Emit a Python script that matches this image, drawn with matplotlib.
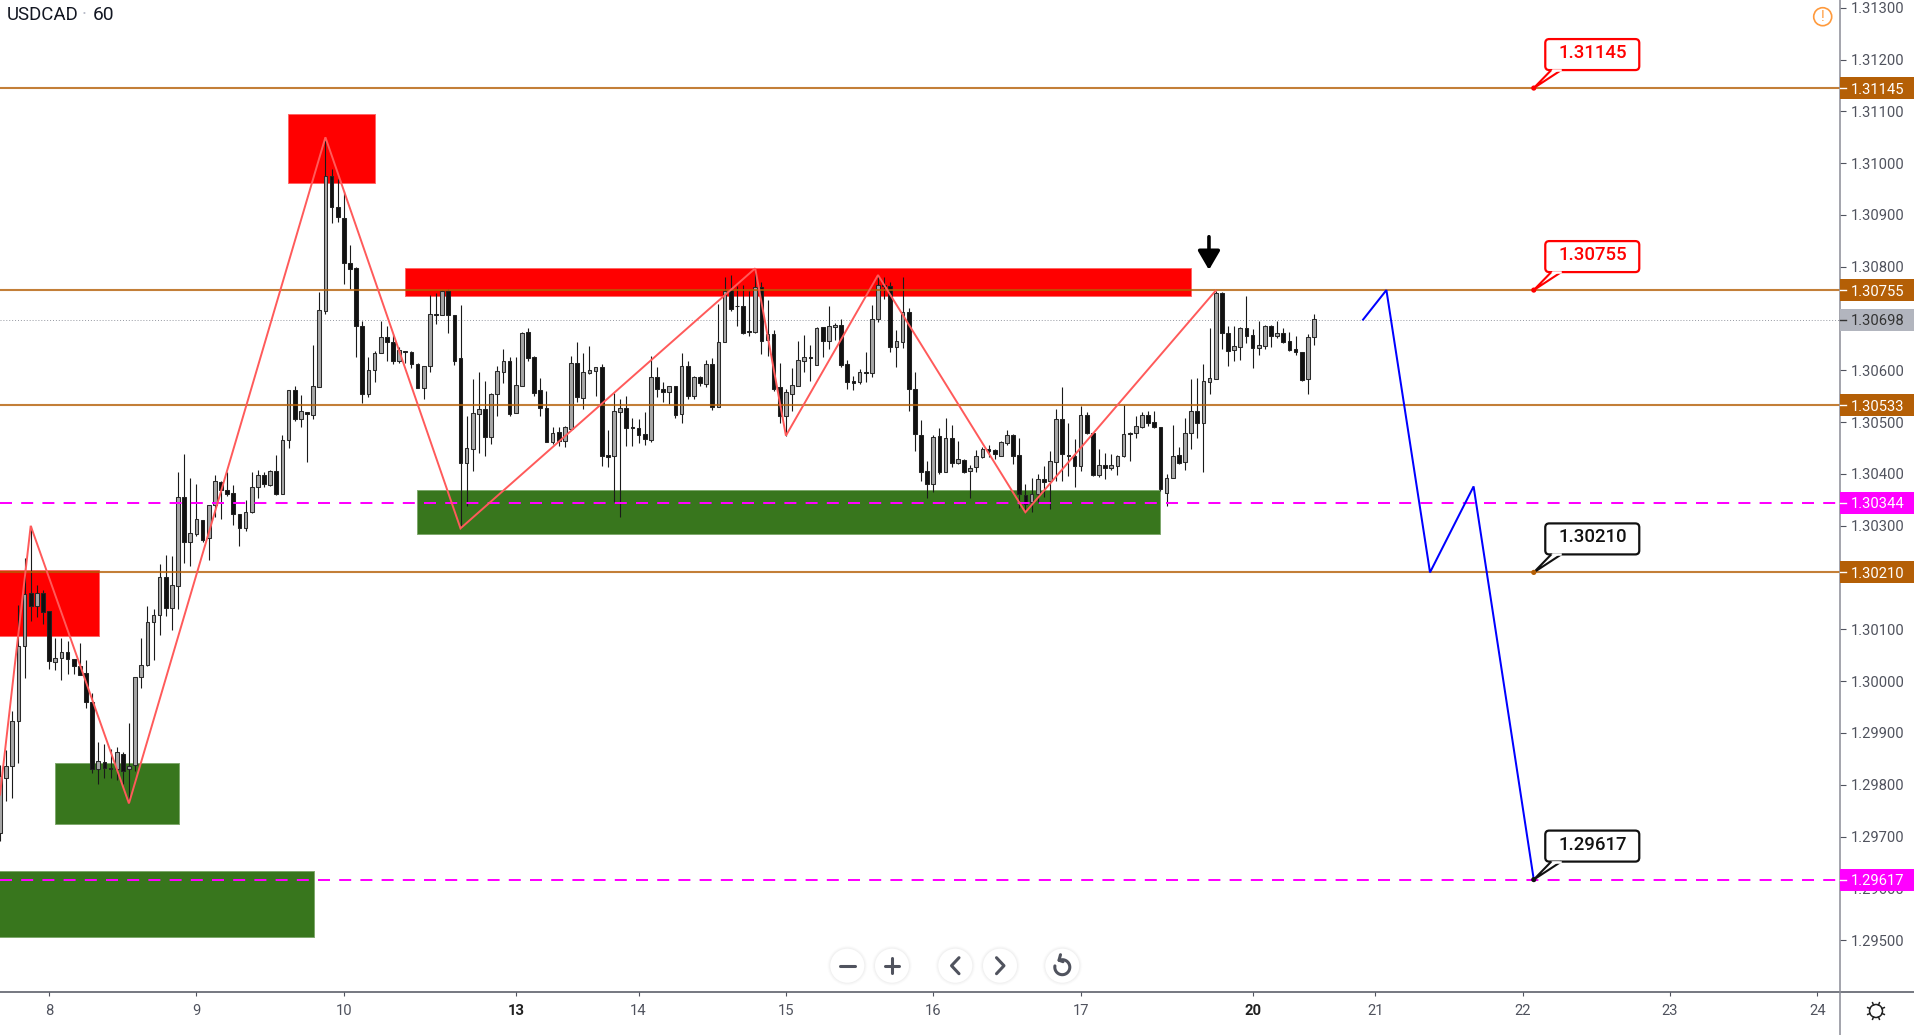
import numpy as np
import matplotlib

matplotlib.use("Agg")
import matplotlib.pyplot as plt
from matplotlib.lines import Line2D
from matplotlib.patches import Circle, FancyBboxPatch, Polygon, Rectangle
from matplotlib.transforms import IdentityTransform

plt.rcParams["font.family"] = ["Roboto", "DejaVu Sans"]

W, H = 1915, 1035
AXIS_X, AXIS_Y = 1840, 992
BAR_PX = 6.14

BROWN = "#b45f06"
MAGENTA = "#ff00ff"
ZIGZAG = "#ff5a5a"
TEXT = "#50535e"

# hourly candles, in points above 1.30000
opens = [-293, -187, -164, -77, 68, 171, 145, 171, 135, 38, 45, 56, 42, 30, 15, -40, -170, -156, -167, -170,
         -140, -170, -161, 8, 32, 114, 127, 202, 141, 184, 356, 269, 285, 311, 277, 340, 385, 370, 364, 322,
         295, 327, 374, 398, 379, 405, 362, 465, 562, 506, 519, 513, 567, 715, 975, 915, 895, 808, 797, 686,
         554, 600, 633, 665, 654, 618, 638, 635, 613, 566, 608, 709, 706, 754, 706, 623, 421, 448, 516, 525,
         472, 554, 597, 619, 517, 570, 675, 626, 563, 528, 461, 482, 463, 487, 615, 547, 594, 599, 607, 437,
         435, 520, 527, 490, 488, 477, 465, 588, 564, 559, 569, 516, 608, 550, 588, 574, 612, 530, 655, 755,
         725, 725, 676, 675, 760, 659, 670, 567, 512, 554, 570, 619, 625, 611, 683, 657, 683, 688, 612, 579,
         577, 596, 594, 699, 765, 762, 646, 655, 713, 564, 475, 405, 380, 474, 404, 470, 422, 427, 405, 414,
         432, 449, 447, 435, 459, 476, 436, 359, 345, 361, 390, 387, 424, 506, 437, 435, 416, 514, 480, 398,
         417, 411, 416, 434, 480, 479, 490, 514, 501, 490, 363, 392, 436, 423, 479, 521, 498, 578, 584, 749,
         672, 640, 646, 681, 668, 643, 648, 686, 666, 673, 657, 641, 635, 583, 664]
highs = [-161, -132, -58, 148, 238, 300, 185, 177, 135, 84, 84, 77, 42, 74, 40, -22, -118, -122, -130, -127,
         -137, -80, 8, 84, 145, 139, 226, 243, 242, 403, 438, 393, 380, 311, 340, 399, 387, 403, 378, 322,
         350, 403, 408, 404, 408, 436, 475, 562, 570, 552, 519, 649, 752, 1050, 989, 969, 947, 843, 799, 696,
         625, 638, 696, 686, 670, 646, 638, 638, 615, 609, 745, 749, 755, 758, 707, 727, 512, 584, 596, 580,
         557, 608, 642, 625, 625, 675, 681, 628, 586, 561, 490, 490, 493, 628, 654, 633, 648, 606, 613, 485,
         556, 545, 551, 509, 507, 519, 628, 606, 577, 570, 570, 633, 619, 590, 590, 621, 623, 728, 780, 785,
         763, 765, 754, 796, 770, 736, 678, 615, 564, 604, 657, 668, 649, 683, 684, 725, 691, 699, 621, 590,
         602, 635, 726, 784, 780, 771, 677, 780, 720, 596, 504, 425, 475, 488, 509, 495, 464, 429, 417, 447,
         453, 456, 449, 464, 485, 478, 470, 380, 393, 400, 416, 445, 526, 567, 499, 467, 532, 519, 481, 448,
         441, 438, 436, 533, 481, 512, 520, 522, 522, 490, 400, 495, 452, 508, 583, 586, 613, 681, 754, 751,
         686, 686, 683, 744, 680, 696, 687, 687, 696, 681, 675, 667, 636, 670, 709]
lows = [-309, -232, -225, -158, 7, 116, 123, 110, 24, 21, 3, 13, 13, 11, -51, -177, -198, -187, -187, -190,
        -199, -235, -174, -13, 30, 41, 89, 126, 99, 139, 228, 222, 280, 269, 234, 316, 313, 358, 302, 261,
        290, 324, 354, 374, 377, 359, 362, 450, 502, 490, 423, 506, 567, 709, 884, 886, 767, 757, 625, 537,
        548, 577, 633, 618, 612, 615, 615, 604, 566, 545, 597, 689, 706, 673, 611, 295, 338, 406, 440, 435,
        458, 512, 575, 512, 517, 570, 619, 550, 511, 461, 458, 454, 453, 485, 538, 525, 593, 551, 416, 414,
        346, 317, 454, 454, 459, 456, 462, 549, 538, 535, 508, 499, 545, 545, 569, 567, 524, 529, 654, 715,
        686, 670, 667, 673, 631, 628, 561, 499, 474, 522, 569, 597, 580, 610, 625, 642, 659, 606, 565, 563,
        574, 577, 588, 694, 738, 636, 606, 644, 522, 445, 387, 353, 365, 400, 403, 414, 419, 402, 353, 404,
        431, 432, 429, 434, 456, 419, 335, 324, 327, 345, 355, 332, 387, 387, 396, 374, 406, 477, 396, 395,
        390, 408, 398, 432, 425, 470, 488, 493, 488, 367, 338, 392, 419, 408, 448, 469, 403, 554, 583, 642,
        609, 619, 620, 653, 604, 630, 641, 646, 662, 653, 638, 630, 580, 554, 649]
closes = [-183, -164, -77, 68, 168, 145, 170, 133, 39, 45, 56, 42, 29, 12, -40, -170, -154, -168, -170, -137,
          -174, -163, 8, 32, 115, 127, 202, 142, 185, 356, 269, 287, 313, 273, 340, 386, 370, 361, 322, 296,
          327, 374, 398, 380, 406, 362, 465, 562, 506, 521, 515, 570, 717, 975, 915, 897, 808, 796, 685, 554,
          601, 633, 665, 654, 618, 640, 635, 612, 566, 609, 709, 706, 754, 706, 619, 421, 451, 517, 525, 472,
          555, 599, 618, 516, 572, 673, 623, 557, 528, 462, 480, 464, 491, 615, 548, 596, 601, 606, 435, 432,
          522, 528, 488, 488, 476, 467, 588, 564, 559, 569, 514, 608, 551, 588, 575, 612, 530, 654, 754, 718,
          724, 672, 674, 760, 657, 670, 565, 512, 559, 572, 620, 625, 624, 681, 657, 686, 688, 610, 577, 575,
          596, 595, 699, 765, 762, 646, 657, 713, 564, 477, 404, 380, 472, 403, 470, 422, 429, 403, 412, 434,
          449, 445, 438, 462, 476, 435, 361, 342, 361, 391, 385, 425, 506, 438, 435, 416, 514, 479, 398, 417,
          412, 417, 435, 477, 477, 492, 514, 499, 490, 371, 393, 434, 422, 480, 521, 499, 580, 586, 749, 672,
          638, 648, 681, 667, 644, 649, 686, 666, 673, 655, 640, 635, 582, 664, 700]

# levels
solid_levels = [1.31145, 1.30755, 1.30533, 1.30210]
dashed_levels = [1.30344, 1.29617]
last_price = 1.30698

# zigzag and projected path, (bar, price)
zigzag_bars = [0, 5, 21, 53, 75, 123, 128, 143, 167, 198]
zigzag_prices = [1.29781, 1.30300, 1.29764, 1.31050, 1.30295, 1.30797, 1.30474, 1.30784, 1.30326, 1.30754]
path_bars = [222, 225.8, 232.9, 240, 249.8]
path_prices = [1.30698, 1.30755, 1.30210, 1.30376, 1.29617]

# zones: bar start, bar end, price low, price high
red_zones = [(-1, 16.07, 1.30087, 1.30215), (46.85, 61.07, 1.30962, 1.31095), (66, 193.9, 1.30744, 1.30797)]
green_zones = [(8.96, 29.1, 1.29725, 1.29842), (-1, 51.1, 1.29507, 1.29634), (67.9, 189, 1.30285, 1.30369)]

# callouts at bar 249.8
callout_prices = [1.31145, 1.30755, 1.30210, 1.29617]
callout_colors = ["#ff0000", "#ff0000", "#111111", "#111111"]
callout_dots = ["#ff0000", "#ff0000", BROWN, "#111111"]
callout_bar = 249.8

price_ticks = [1.31300, 1.31200, 1.31100, 1.31000, 1.30900, 1.30800, 1.30700, 1.30600, 1.30500, 1.30400,
               1.30300, 1.30200, 1.30100, 1.30000, 1.29900, 1.29800, 1.29700, 1.29600, 1.29500]
day_bars = [8, 32, 56, 84, 104, 128, 152, 176, 204, 224, 248, 272, 296]
day_labels = ["8", "9", "10", "13", "14", "15", "16", "17", "20", "21", "22", "23", "24"]
bold_days = ["13", "20"]


def pix(x, y):
    return x, H - y


def fig_line(fig, xs, ys, color=TEXT, lw=1.0, **kw):
    fig.add_artist(Line2D(xs, [H - y for y in ys], transform=IdentityTransform(), color=color, lw=lw, **kw))


def fig_circle(fig, x, y, r, **kw):
    fig.add_artist(Circle(pix(x, y), r, transform=IdentityTransform(), **kw))


def draw_candles(ax):
    o = 1.3 + np.array(opens) / 1e5
    h = 1.3 + np.array(highs) / 1e5
    l = 1.3 + np.array(lows) / 1e5
    c = 1.3 + np.array(closes) / 1e5
    bars = np.arange(len(o))
    up = c >= o
    ax.vlines(bars, l, h, color="#1a1a1a", lw=0.8, zorder=2)
    ax.bar(bars[up], (c - o)[up], bottom=o[up], width=0.6, facecolor="#a6a6a6", edgecolor="#2a2a2a", lw=0.75, zorder=2.1)
    ax.bar(bars[~up], (c - o)[~up], bottom=o[~up], width=0.6, facecolor="#111111", edgecolor="#222222", lw=0.75, zorder=2.1)


def draw_callout(fig, ax, price, color, dot):
    ax_x, ax_y = ax.transData.transform((callout_bar, price))
    box = FancyBboxPatch((ax_x + 11.5, ax_y + 18), 94, 31, boxstyle="round,pad=0,rounding_size=4",
                         transform=IdentityTransform(), fc="white", ec=color, lw=1.6, zorder=6)
    fig.add_artist(box)
    tail = Polygon([(ax_x + 17.5, ax_y + 18), (ax_x, ax_y), (ax_x + 27.5, ax_y + 18)], closed=False,
                   transform=IdentityTransform(), fc="white", ec=color, lw=1.5, zorder=7)
    fig.add_artist(tail)
    fig_line(fig, [ax_x + 19, ax_x + 26], [H - ax_y - 18, H - ax_y - 18], color="white", lw=1.8, zorder=8)
    fig.add_artist(Circle((ax_x, ax_y), 2.6, transform=IdentityTransform(), fc=dot, ec="none", zorder=9))
    fig.text((ax_x + 59) / W, (ax_y + 35) / H, f"{price:.5f}", color=color, fontsize=13.4, fontweight="medium",
             ha="center", va="center", zorder=9)


def draw_price_tag(fig, ax, price, bg, fg):
    _, y = ax.transData.transform((0, price))
    fig.add_artist(Rectangle((AXIS_X, y - 11), W - AXIS_X, 22, transform=IdentityTransform(), fc=bg, ec="none", zorder=6))
    fig.add_artist(Line2D([AXIS_X, AXIS_X + 6], [y, y], transform=IdentityTransform(), color=fg, lw=1.0, zorder=7))
    fig.text(1850.5 / W, y / H, f"{price:.5f}", color=fg, fontsize=10.6, ha="left", va="center_baseline", zorder=7)


def draw_buttons(fig):
    centers = [847.3, 892, 955.3, 1000, 1062.3]
    cy = 965.7
    for cx in centers:
        for r, a in [(20, 0.012), (19, 0.018), (18, 0.025)]:
            fig_circle(fig, cx, cy, r, fc="#000000", ec="none", alpha=a, zorder=6)
        fig_circle(fig, cx, cy, 17, fc="white", ec="none", zorder=6)
    kw = dict(color=TEXT, lw=2.2, zorder=7, solid_capstyle="round")
    fig_line(fig, [840, 854.5], [cy, cy], **kw)
    fig_line(fig, [884.7, 899.3], [cy, cy], **kw)
    fig_line(fig, [892, 892], [cy - 7.3, cy + 7.3], **kw)
    fig_line(fig, [959, 951.5, 959], [cy - 8, cy, cy + 8], **kw)
    fig_line(fig, [996.5, 1004, 996.5], [cy - 8, cy, cy + 8], **kw)
    t = np.radians(np.linspace(-115, 190, 40))
    fig_line(fig, 1062.3 + 7.5 * np.cos(t), cy + 1.5 + 7.5 * np.sin(t), **kw)
    fig_line(fig, [1060.5, 1059, 1063], [cy - 11, cy - 5.5, cy - 4], **kw)


def draw_gear(fig):
    cx, cy = 1876, 1011
    fig_circle(fig, cx, cy, 6.5, fc="white", ec="#222222", lw=1.1, zorder=6)
    for a in np.radians(np.arange(0, 360, 45) + 22.5):
        fig_line(fig, [cx + 6.5 * np.cos(a), cx + 9 * np.cos(a)], [cy + 6.5 * np.sin(a), cy + 9 * np.sin(a)],
                 color="#222222", lw=1.1, zorder=6)


def main():
    fig = plt.figure(figsize=(W / 100, H / 100), dpi=100, facecolor="white")
    ax = fig.add_axes([0, (H - AXIS_Y) / H, AXIS_X / W, AXIS_Y / H])
    ax.set_xlim(0, AXIS_X / BAR_PX)
    ax.set_ylim(1.29400, 1.31315)
    for name in ["top", "left", "right", "bottom"]:
        ax.spines[name].set_visible(False)

    for x0, x1, lo, hi in red_zones:
        ax.add_patch(Rectangle((x0, lo), x1 - x0, hi - lo, fc="#ff0000", ec="#ff6666", lw=0.7, zorder=1))
    for x0, x1, lo, hi in green_zones:
        ax.add_patch(Rectangle((x0, lo), x1 - x0, hi - lo, fc="#38761d", ec="#7fa86c", lw=0.7, zorder=1))

    draw_candles(ax)

    ax.axhline(last_price, color="#9598a1", lw=0.7, ls=(0, (1, 2)), zorder=1.5)
    for level in solid_levels:
        ax.axhline(level, color=BROWN, lw=1.5, alpha=0.8, zorder=3)
    for level in dashed_levels:
        ax.axhline(level, color=MAGENTA, lw=1.44, dashes=(6, 4.6), zorder=3)

    ax.plot(zigzag_bars, zigzag_prices, color=ZIGZAG, lw=1.4, zorder=4, solid_joinstyle="miter")
    ax.plot(path_bars, path_prices, color="#0000ff", lw=1.45, zorder=4, solid_joinstyle="miter")

    ax.annotate("", xy=(196.9, 1.30794), xytext=(196.9, 1.30858),
                arrowprops=dict(arrowstyle="-|>,head_length=0.72,head_width=0.42", color="black", lw=2.6,
                                mutation_scale=16, shrinkA=0, shrinkB=0), zorder=5)

    ax.yaxis.tick_right()
    ax.set_yticks(price_ticks)
    ax.set_yticklabels([f"{p:.5f}" for p in price_ticks], fontsize=10.6, color=TEXT)
    ax.tick_params(axis="y", length=4.3, width=0.8, color=TEXT, pad=3.4)
    ax.set_xticks(day_bars)
    ax.set_xticklabels(day_labels, fontsize=10.6, color=TEXT)
    ax.tick_params(axis="x", length=3.2, width=0.8, color=TEXT, pad=5.5)
    for lab in ax.get_xticklabels():
        if lab.get_text() in bold_days:
            lab.set_fontweight("bold")
            lab.set_color("#222222")

    fig_line(fig, [0, W], [AXIS_Y, AXIS_Y], color=TEXT, lw=1.1, zorder=5)
    fig_line(fig, [AXIS_X, AXIS_X], [0, H], color="#8a8c96", lw=1.1, zorder=5)

    fig.text(7 / W, 1 - 15.5 / H, "USDCAD", fontsize=13.4, color="#131722", ha="left", va="center")
    fig.text(84 / W, 1 - 15.5 / H, "·", fontsize=13.4, color="#b8bcc8", ha="center", va="center")
    fig.text(92.5 / W, 1 - 15.5 / H, "60", fontsize=13.8, color="#131722", ha="left", va="center")

    fig_circle(fig, 1822.7, 16.7, 9, fc="white", ec="#ff9a3c", lw=1.2, zorder=6)
    fig.text(1822.7 / W, 1 - 16.7 / H, "!", fontsize=10, color="#ff9a3c", ha="center", va="center", zorder=7)

    for price, color, dot in zip(callout_prices, callout_colors, callout_dots):
        draw_callout(fig, ax, price, color, dot)

    for level in solid_levels:
        draw_price_tag(fig, ax, level, BROWN, "white")
    for level in dashed_levels:
        draw_price_tag(fig, ax, level, MAGENTA, "white")
    draw_price_tag(fig, ax, last_price, "#b2b5be", "#333333")

    draw_buttons(fig)
    draw_gear(fig)

    fig.savefig("out.png", dpi=100, facecolor="white")


if __name__ == "__main__":
    main()
